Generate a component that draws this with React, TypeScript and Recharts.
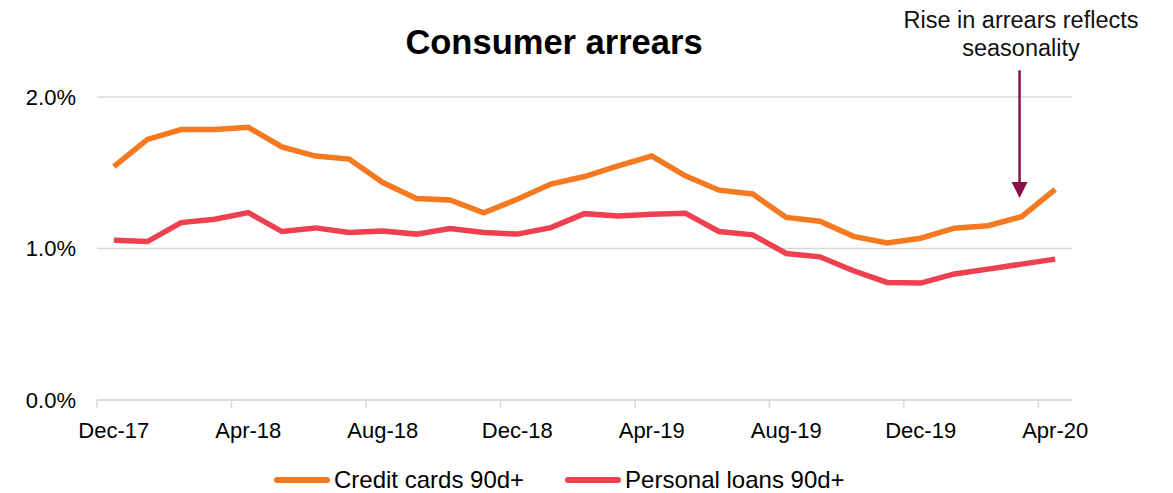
import { CartesianGrid, Legend, Line, LineChart, ReferenceLine, XAxis, YAxis } from "recharts";

const months = [
  "Dec-17", "Jan-18", "Feb-18", "Mar-18", "Apr-18", "May-18", "Jun-18", "Jul-18",
  "Aug-18", "Sep-18", "Oct-18", "Nov-18", "Dec-18", "Jan-19", "Feb-19", "Mar-19",
  "Apr-19", "May-19", "Jun-19", "Jul-19", "Aug-19", "Sep-19", "Oct-19", "Nov-19",
  "Dec-19", "Jan-20", "Feb-20", "Mar-20", "Apr-20",
];

const creditCards = [
  1.54, 1.72, 1.785, 1.785, 1.8, 1.67, 1.61, 1.59, 1.435, 1.33, 1.32, 1.235, 1.325,
  1.425, 1.475, 1.545, 1.61, 1.48, 1.385, 1.36, 1.205, 1.18, 1.08, 1.036, 1.068,
  1.134, 1.15, 1.21, 1.39,
];

const personalLoans = [
  1.055, 1.046, 1.171, 1.193, 1.237, 1.112, 1.136, 1.105, 1.116, 1.095, 1.132, 1.105,
  1.095, 1.138, 1.23, 1.215, 1.226, 1.233, 1.112, 1.09, 0.967, 0.945, 0.853, 0.776,
  0.772, 0.832, 0.864, 0.897, 0.93,
];

const yTicks = [0, 1, 2];

const ORANGE = "#F47920";
const RED = "#EF4050";
const GRID = "#D9D9D9";
const MAROON = "#8A1048";
const FONT = "'Liberation Sans', Arial, sans-serif";

const data = months.map((month, i) => ({
  month,
  credit: creditCards[i],
  personal: personalLoans[i],
}));

const XTick = (props: any) => {
  const { x, y, payload, bandSize } = props;
  const half = (bandSize ?? 33.62) / 2;
  return (
    <g>
      <line x1={x - half} x2={x - half} y1={y - 8} y2={y} stroke={GRID} strokeWidth={1.5} />
      <text x={x} y={y + 30} textAnchor="middle" fontSize={22} fill="#000" fontFamily={FONT}>
        {payload.value}
      </text>
    </g>
  );
};

// arrow pointing at the seasonal rise
const Arrow = (props: any) => {
  const { x1, y1, y2 } = props;
  return (
    <g>
      <line x1={x1 - 2} x2={x1 - 2} y1={y1} y2={y2 - 14} stroke={MAROON} strokeWidth={2.5} />
      <polygon
        points={`${x1 - 10},${y2 - 16} ${x1 + 6},${y2 - 16} ${x1 - 2},${y2}`}
        fill={MAROON}
      />
    </g>
  );
};

const LegendContent = () => (
  <div
    style={{
      display: "flex",
      alignItems: "center",
      paddingLeft: 274,
      fontFamily: FONT,
      fontSize: 24,
      color: "#000",
      height: 26,
    }}
  >
    <span style={{ width: 56, height: 6, borderRadius: 3, background: ORANGE, marginRight: 4 }} />
    <span style={{ marginRight: 41 }}>Credit cards 90d+</span>
    <span style={{ width: 56, height: 6, borderRadius: 3, background: RED, marginRight: 4 }} />
    <span>Personal loans 90d+</span>
  </div>
);

export default function App() {
  return (
    <div style={{ position: "absolute", left: 0, top: 0, background: "#fff" }}>
      <LineChart
        width={1173}
        height={493}
        data={data}
        margin={{ top: 97, right: 101, bottom: 0, left: 17 }}
      >
        <CartesianGrid vertical={false} stroke={GRID} strokeWidth={1.5} />
        <XAxis
          dataKey="month"
          scale="band"
          interval={3}
          height={67}
          axisLine={{ stroke: GRID, strokeWidth: 1.5 }}
          tickLine={false}
          tick={<XTick />}
        />
        <YAxis
          domain={[0, 2]}
          ticks={yTicks}
          width={80}
          axisLine={false}
          tickLine={false}
          tickMargin={15}
          tickFormatter={(v: number) => `${v.toFixed(1)}%`}
          tick={{ fontSize: 22, fill: "#000", fontFamily: FONT }}
        />
        <ReferenceLine
          segment={[
            { x: "Mar-20", y: 2.176 },
            { x: "Mar-20", y: 1.334 },
          ]}
          ifOverflow="visible"
          shape={<Arrow />}
        />
        <Line
          dataKey="credit"
          name="Credit cards 90d+"
          stroke={ORANGE}
          strokeWidth={5.5}
          dot={false}
          isAnimationActive={false}
        />
        <Line
          dataKey="personal"
          name="Personal loans 90d+"
          stroke={RED}
          strokeWidth={5.5}
          dot={false}
          isAnimationActive={false}
        />
        <Legend
          verticalAlign="bottom"
          height={26}
          wrapperStyle={{ left: 0, width: 1173 }}
          content={<LegendContent />}
        />
        <text x={554} y={54} textAnchor="middle" fontSize={34.5} fontWeight={700} fill="#000" fontFamily={FONT}>
          Consumer arrears
        </text>
        <text x={1021} y={28} textAnchor="middle" fontSize={23.5} fill="#111" fontFamily={FONT}>
          <tspan x={1021} dy={0}>Rise in arrears reflects</tspan>
          <tspan x={1021} dy={28}>seasonality</tspan>
        </text>
      </LineChart>
    </div>
  );
}
